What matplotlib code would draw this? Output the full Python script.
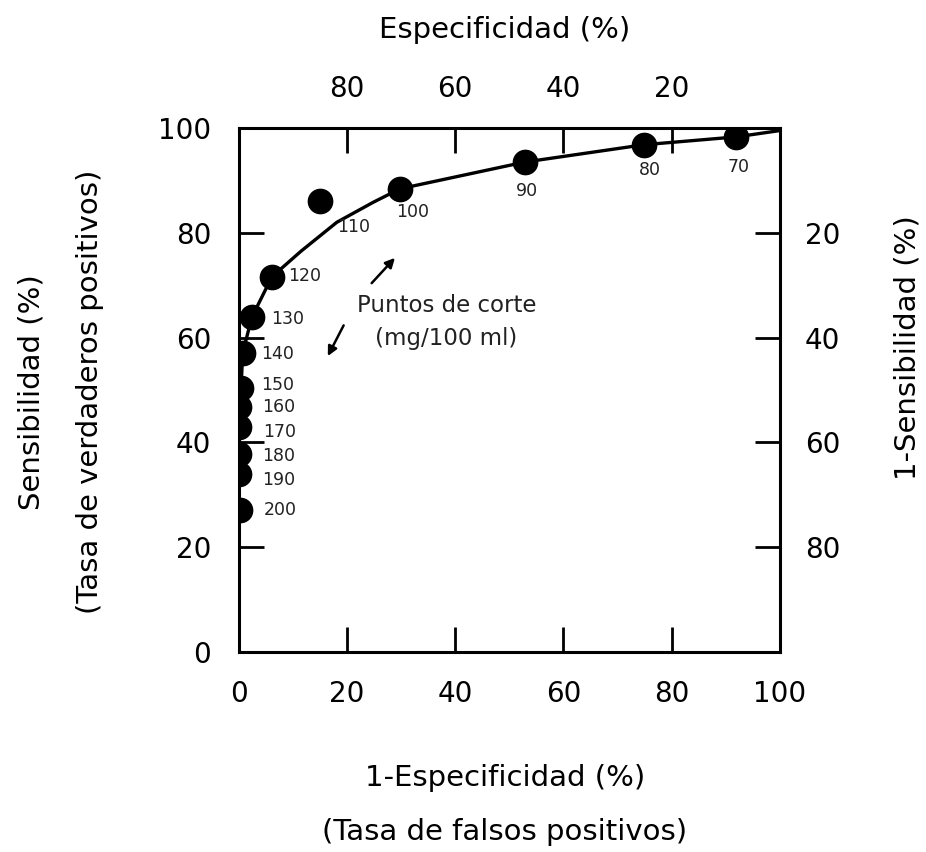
import matplotlib
matplotlib.use('Agg')
import matplotlib.pyplot as plt

# cut-off points (mg/100 ml)
cortes = ['70', '80', '90', '100', '110', '120', '130', '140', '150', '160', '170', '180', '190', '200']
fpr = [92.0, 74.9, 52.9, 29.8, 15.0, 6.1, 2.4, 0.7, 0.4, 0.0, 0.0, 0.0, 0.0, 0.2]
sens = [98.3, 96.8, 93.5, 88.4, 86.0, 71.6, 63.9, 57.1, 50.4, 46.7, 42.9, 37.8, 34.0, 27.1]

# drawn curve
curve_x = [0.0, 0.0, 0.0, 0.4, 0.7, 2.4, 6.1, 11.5, 18.1, 24.8, 29.8, 52.9, 74.9, 92.0, 100.0]
curve_y = [24.0, 34.0, 42.9, 50.4, 57.1, 63.9, 71.6, 76.5, 82.0, 85.8, 88.4, 93.5, 96.8, 98.3, 99.5]

ticks = [0, 20, 40, 60, 80, 100]
inner_ticks = [20, 40, 60, 80]

# label offsets (pixels) from each dot
label_off = [(2, -30), (6, -25), (2, -29), (13, -23), (34, -26), (33, 1), (36, -2),
             (35, -1), (37, 3), (40, 0), (41, -5), (40, -2), (40, -6), (40, 0)]

plt.rcParams['font.family'] = 'DejaVu Sans'

fig = plt.figure(figsize=(9.26, 8.52), dpi=100)
ax = fig.add_axes([0.258, 0.2347, 0.584, 0.6151])

ax.plot(curve_x, curve_y, color='black', linewidth=2.4, zorder=2)
ax.plot(fpr, sens, 'o', color='black', markersize=17.5, zorder=3)

for lab, x, y, off in zip(cortes, fpr, sens, label_off):
    ax.annotate(lab, (x, y), xytext=off, textcoords='offset pixels',
                ha='center', va='center', fontsize=12.5, color='#222222')

ax.text(38.4, 66.2, 'Puntos de corte', ha='center', va='center', fontsize=16.5, color='#222222')
ax.text(38.4, 59.9, '(mg/100 ml)', ha='center', va='center', fontsize=16.5, color='#222222')
ax.annotate('', xy=(29.2, 75.6), xytext=(24.2, 70.0),
            arrowprops=dict(arrowstyle='-|>', color='black', lw=1.8, mutation_scale=14))
ax.annotate('', xy=(16.2, 56.0), xytext=(19.6, 62.8),
            arrowprops=dict(arrowstyle='-|>', color='black', lw=1.8, mutation_scale=14))

ax.set_xlim(0, 100)
ax.set_ylim(0, 100)
ax.set_xticks(ticks)
ax.set_yticks(ticks)
ax.tick_params(direction='in', length=18, width=2, labelsize=20, pad=20)
for t in ax.xaxis.get_major_ticks() + ax.yaxis.get_major_ticks():
    if t.get_loc() in (0, 100):
        t.tick1line.set_visible(False)

for s in ax.spines.values():
    s.set_linewidth(2.2)

# top axis: especificidad
axt = ax.twiny()
axt.set_xlim(100, 0)
axt.set_xticks(inner_ticks[::-1])
axt.tick_params(direction='in', length=18, width=2, labelsize=20, pad=18)

# right axis: 1-sensibilidad
axr = ax.twinx()
axr.set_ylim(100, 0)
axr.set_yticks(inner_ticks)
axr.tick_params(direction='in', length=18, width=2, labelsize=20, pad=18)

fig.text(0.545, 0.965, 'Especificidad (%)', ha='center', va='center', fontsize=21)
fig.text(0.545, 0.087, '1-Especificidad (%)', ha='center', va='center', fontsize=21)
fig.text(0.545, 0.024, '(Tasa de falsos positivos)', ha='center', va='center', fontsize=21)
fig.text(0.034, 0.54, 'Sensibilidad (%)', rotation=90, ha='center', va='center', fontsize=21)
fig.text(0.097, 0.54, '(Tasa de verdaderos positivos)', rotation=90, ha='center', va='center', fontsize=21)
fig.text(0.98, 0.592, '1-Sensibilidad (%)', rotation=90, ha='center', va='center', fontsize=21)

fig.savefig('out.png', dpi=100)
